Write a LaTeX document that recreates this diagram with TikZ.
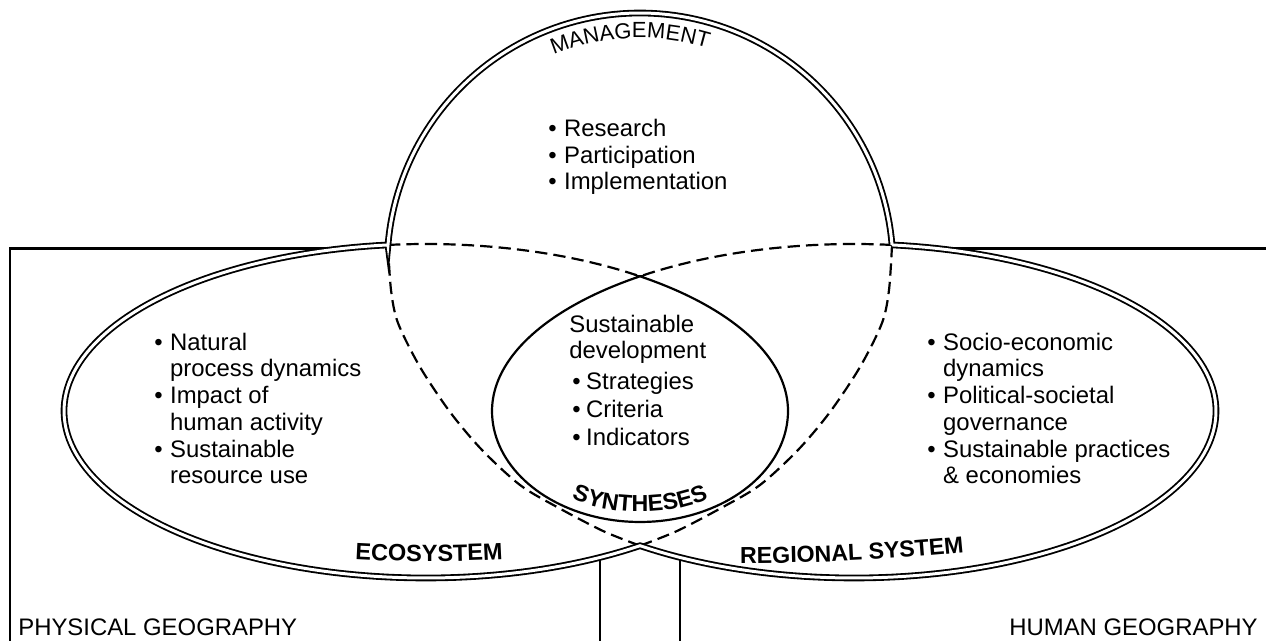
\documentclass[tikz,border=0pt]{standalone}
\usepackage{fontspec}
\setmainfont{Liberation Sans}
\usetikzlibrary{decorations.text}
\newcommand\bulx[1]{\makebox[#1][l]{•}}
\begin{document}
\begin{tikzpicture}[x=0.02cm,y=-0.02cm,
  dbl/.style={draw=black, double=white, double distance=1.7pt, line width=1.05pt, line join=miter},
  hid/.style={draw=black, line width=1.25pt, dash pattern=on 7pt off 3.5pt},
  frameline/.style={draw=black, line width=1.35pt},
  lensline/.style={draw=black, line width=1.25pt, line join=miter},
  txt/.style={inner sep=0pt, anchor=base west, font=\fontsize{13.6}{15}\selectfont},
  txtr/.style={txt, anchor=base east}]
\useasboundingbox (0,0) rectangle (1266,641);

% frame lines
\draw[frameline] (10,645) -- (10,248.5) -- (345,248.5);
\draw[frameline] (935,248.5) -- (1270,248.5);
\draw[frameline] (600,557) -- (600,645);
\draw[frameline] (680,557) -- (680,645);

% hidden (dashed) outlines
\draw[hid] plot[domain=96.03:53.77, samples=60, variable=\t] ({426+362*cos(\t)}, {411-167*sin(\t)});
\draw[hid] plot[domain=83.97:126.23, samples=60, variable=\s] ({854+362*cos(\s)}, {411-167*sin(\s)});
\draw[hid] plot[smooth] coordinates {(388,245) (391,290) (398,323) (420,367) (450,412) (482,450) (520,485) (557,507) (603,531) (640,545.7)};
\draw[hid] plot[smooth] coordinates {(892,245) (889,290) (882,323) (860,367) (830,412) (798,450) (760,485) (723,507) (677,531) (640,545.7)};

% lens (syntheses)
\draw[lensline] plot[domain=53.77:0, samples=50, variable=\t] ({426+362*cos(\t)}, {411-167*sin(\t)})
  -- plot[domain=0:-180, samples=80, variable=\u] ({640+148*cos(\u)}, {411-111*sin(\u)})
  -- plot[domain=180:126.23, samples=50, variable=\s] ({854+362*cos(\s)}, {411-167*sin(\s)}) -- cycle;

% outer double boundary
\draw[dbl] plot[domain=175.26:4.74, samples=100, variable=\p] ({640+252.9*cos(\p)}, {265.9-252.9*sin(\p)})
  -- plot[domain=83.97:-126.23, samples=120, variable=\s] ({854+362*cos(\s)}, {411-167*sin(\s)})
  -- plot[domain=-53.77:-263.97, samples=120, variable=\t] ({426+362*cos(\t)}, {411-167*sin(\t)}) -- cycle;

% curved labels
\path[decorate, decoration={text along path, text align=center,
  text={|\fontsize{12.5}{14}\selectfont|MANAGEMENT}}]
  plot[domain=132.5:52.5, samples=60, variable=\p] ({640+228*cos(\p)}, {265.9-228*sin(\p)});
\path[decorate, decoration={text along path, text align=center,
  text={|\bfseries\fontsize{13.4}{15}\selectfont|ECOSYSTEM}}]
  (320,557) .. controls (390,563) and (468,563) .. (538,557);
\path[decorate, decoration={text along path, text align=center,
  text={|\bfseries\fontsize{13.2}{15}\selectfont|REGIONAL SYSTEM}}]
  (690,563) .. controls (790,565) and (900,561) .. (1014,547);
\path[decorate, decoration={text along path, text align=center,
  text={|\bfseries\fontsize{13.2}{15}\selectfont|SYNTHESES}}]
  plot[domain=-150:-30, samples=60, variable=\t] ({640+138*cos(\t)}, {411-101*sin(\t)});

% management items
\node[txt] (m1) at (548,137) {\bulx{9pt}Research};
\node[txt] (m2) at (548,164) {\bulx{9pt}Participation};
\node[txt] (m3) at (548,190) {\bulx{9pt}Implementation};

% ecosystem items
\node[txt] (e1) at (154,351) {\bulx{9pt}Natural};
\node[txt] (e2) at (154,377) {\hspace*{9pt}process dynamics};
\node[txt] (e3) at (154,403) {\bulx{9pt}Impact of};
\node[txt] (e4) at (154,430) {\hspace*{9pt}human activity};
\node[txt] (e5) at (154,457) {\bulx{9pt}Sustainable};
\node[txt] (e6) at (154,483) {\hspace*{9pt}resource use};

% regional system items
\node[txt] (r1) at (927,351) {\bulx{9pt}Socio-economic};
\node[txt] (r2) at (927,377) {\hspace*{9pt}dynamics};
\node[txt] (r3) at (927,403) {\bulx{9pt}Political-societal};
\node[txt] (r4) at (927,430) {\hspace*{9pt}governance};
\node[txt] (r5) at (927,457) {\bulx{9pt}Sustainable practices};
\node[txt] (r6) at (927,483) {\hspace*{9pt}\& economies};

% syntheses items
\node[txt] (s1) at (569,333) {Sustainable};
\node[txt] (s2) at (569,358) {development};
\node[txt] (s3) at (572,389) {\bulx{7.9pt}Strategies};
\node[txt] (s4) at (572,417) {\bulx{7.9pt}Criteria};
\node[txt] (s5) at (572,445) {\bulx{7.9pt}Indicators};

% geography labels
\node[txt] (pg) at (18,635) {PHYSICAL GEOGRAPHY};
\node[txtr] (hg) at (1258,635) {HUMAN GEOGRAPHY};
\end{tikzpicture}
\end{document}
